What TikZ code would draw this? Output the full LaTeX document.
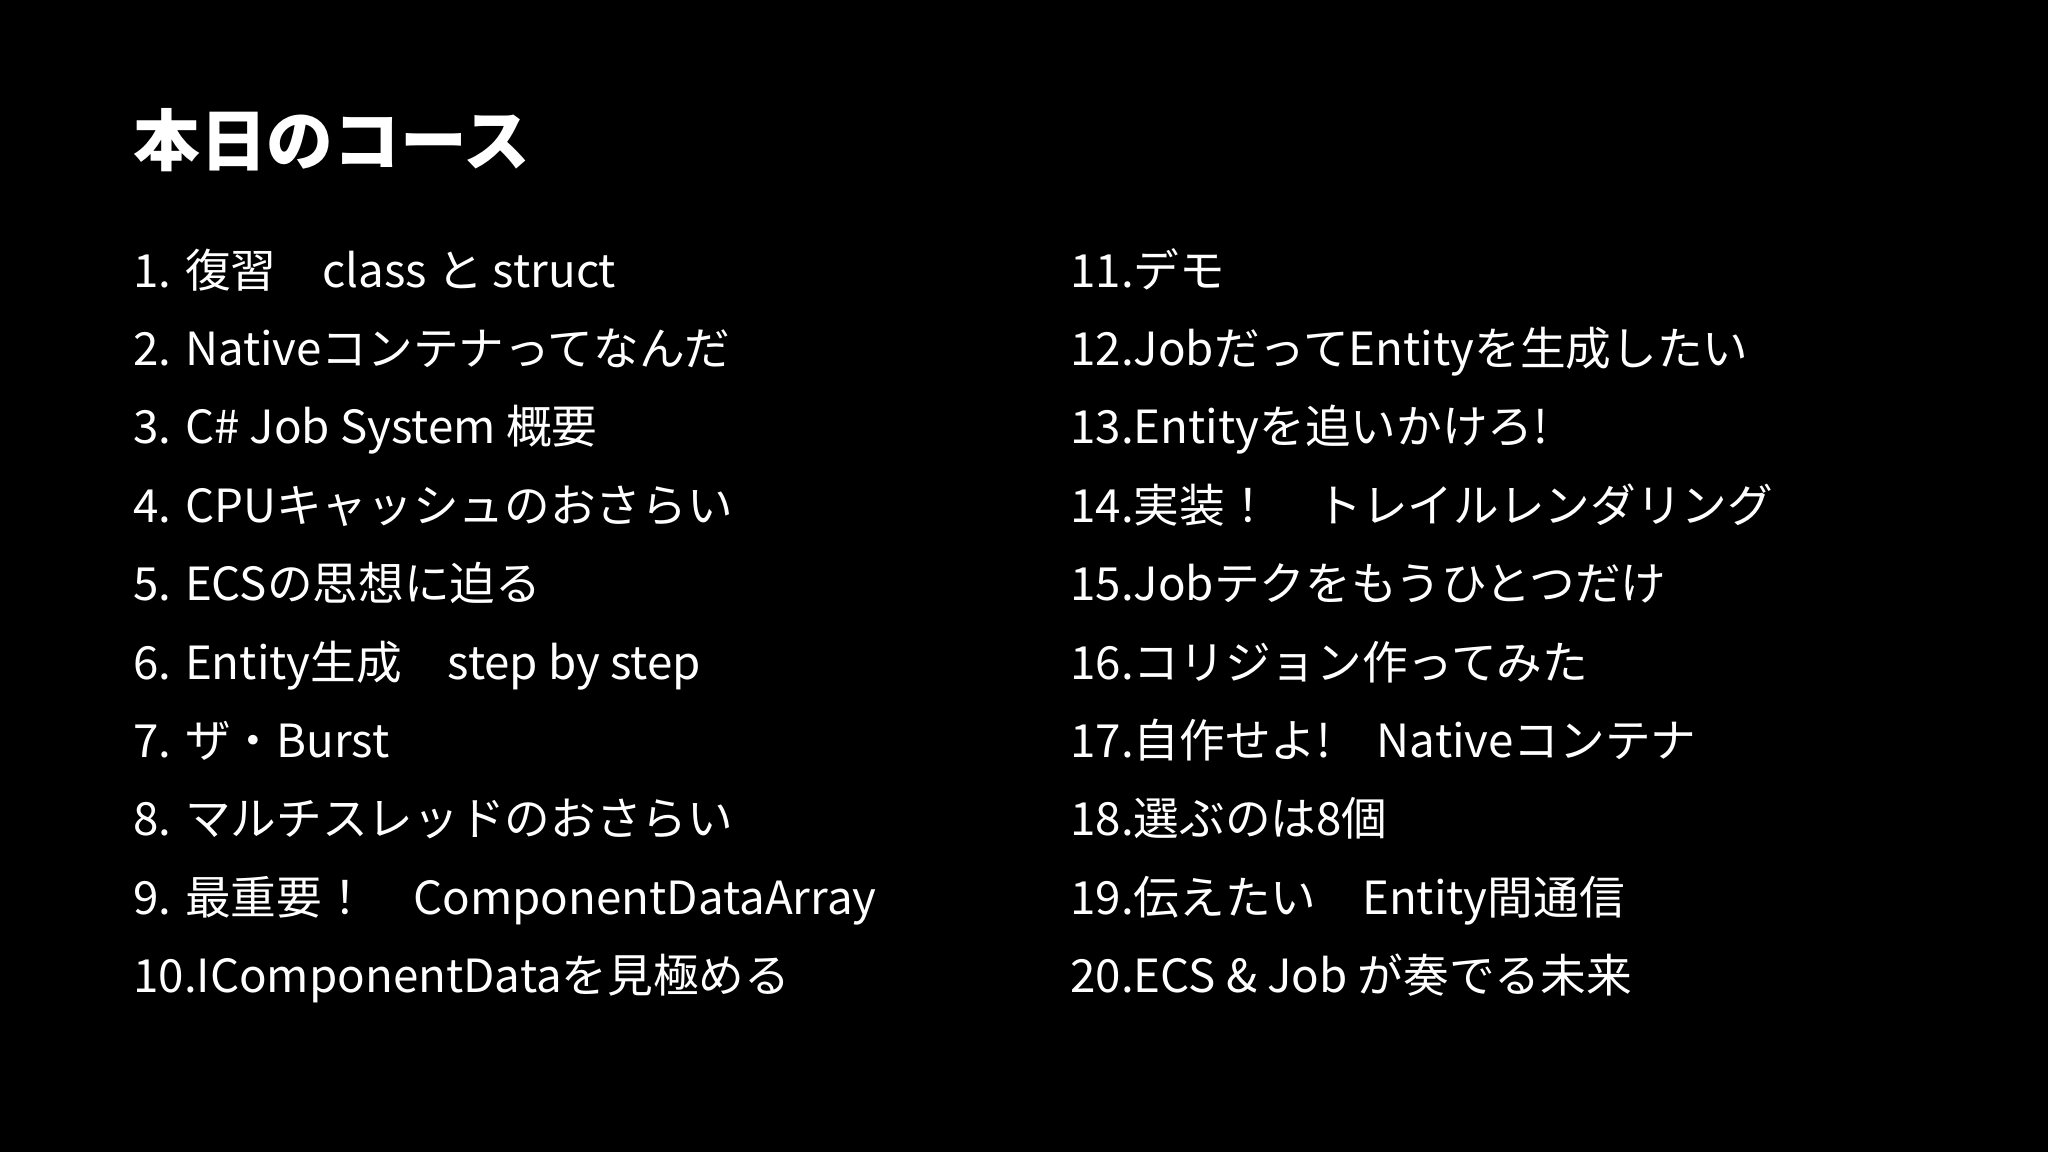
\documentclass[tikz,border=0pt]{standalone}
\usepackage{fontspec}
\setmainfont{Noto Sans CJK JP}
\begin{document}
\begin{tikzpicture}[x=0.02cm,y=-0.02cm,
  item/.style={anchor=base west,inner sep=0pt,text=white,font=\fontsize{26}{30}\selectfont},
  ttl/.style={anchor=base west,inner sep=0pt,text=white,font=\fontsize{38}{44}\selectfont\bfseries}]
\fill[black] (0,0) rectangle (2048,1152);
\useasboundingbox (0,0) rectangle (2048,1152);
\node[ttl] (t) at (133,166) {本日のコース};
\foreach \i/\s in {0/{1. 復習　class と struct},1/{2. Nativeコンテナってなんだ},2/{3. C\# Job System 概要},3/{4. CPUキャッシュのおさらい},4/{5. ECSの思想に迫る},5/{6. Entity生成　step by step},6/{7. ザ・Burst},7/{8. マルチスレッドのおさらい},8/{9. 最重要！　ComponentDataArray},9/{10.IComponentDataを見極める}}
  \node[item] (l\i) at (133,287+78.4*\i) {\s};
\foreach \i/\s in {0/{11.デモ},1/{12.JobだってEntityを生成したい},2/{13.Entityを追いかけろ!},3/{14.実装！　トレイルレンダリング},4/{15.Jobテクをもうひとつだけ},5/{16.コリジョン作ってみた},6/{17.自作せよ!　Nativeコンテナ},7/{18.選ぶのは8個},8/{19.伝えたい　Entity間通信},9/{20.ECS \& Job が奏でる未来}}
  \node[item] (r\i) at (1070,287+78.4*\i) {\s};
\end{tikzpicture}
\end{document}
